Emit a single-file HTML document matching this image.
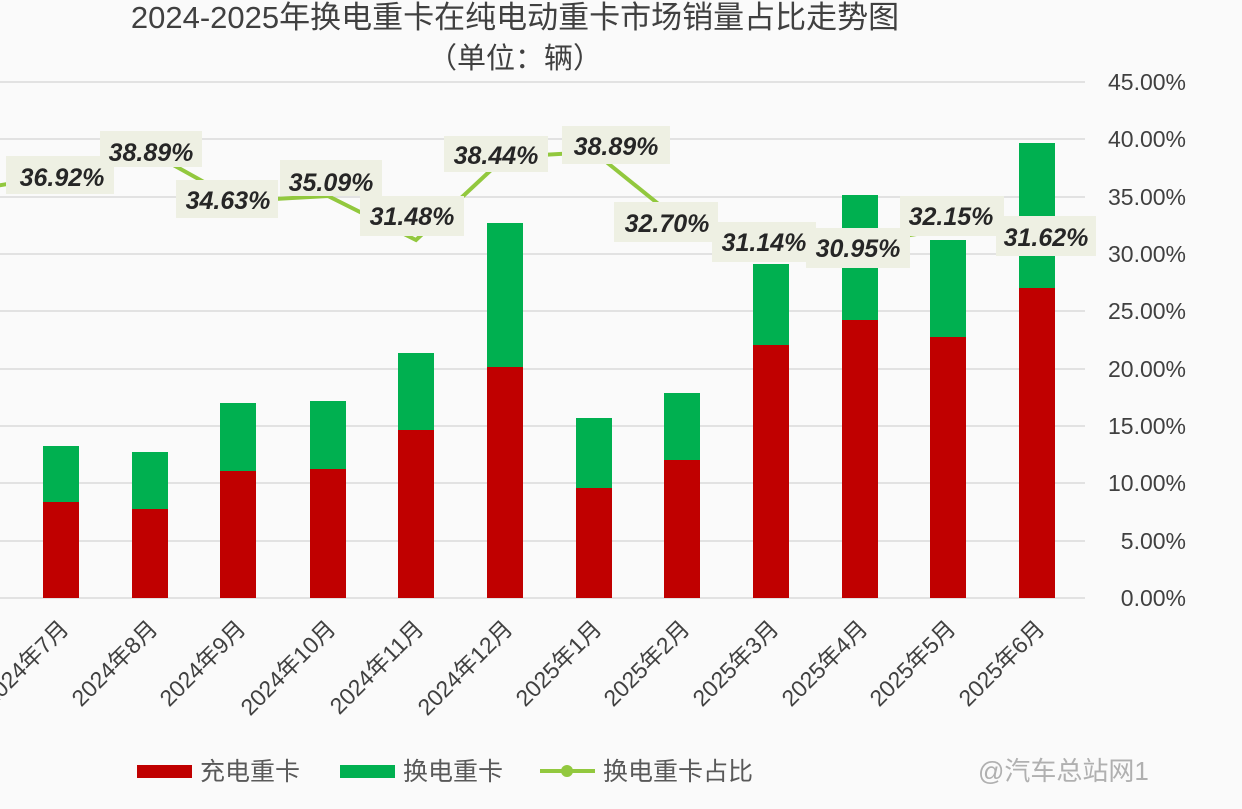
<!DOCTYPE html>
<html><head><meta charset="utf-8"><style>
body{margin:0;background:#fafafa;}
svg{display:block;font-family:"Liberation Sans","Noto Sans CJK SC",sans-serif;}
</style></head><body>
<svg width="1242" height="809" viewBox="0 0 1242 809">
<rect width="1242" height="809" fill="#fafafa"/>
<text x="515" y="28" font-size="31" text-anchor="middle" fill="#404040">2024-2025年换电重卡在纯电动重卡市场销量占比走势图</text>
<text x="515" y="68" font-size="29" text-anchor="middle" fill="#404040">（单位：辆）</text>
<g stroke="#d9d9d9" stroke-width="1.5">
<line x1="0" y1="82" x2="1085" y2="82"/><line x1="0" y1="139" x2="1085" y2="139"/>
<line x1="0" y1="197" x2="1085" y2="197"/><line x1="0" y1="254" x2="1085" y2="254"/>
<line x1="0" y1="311" x2="1085" y2="311"/><line x1="0" y1="369" x2="1085" y2="369"/>
<line x1="0" y1="426" x2="1085" y2="426"/><line x1="0" y1="483" x2="1085" y2="483"/>
<line x1="0" y1="541" x2="1085" y2="541"/><line x1="0" y1="598" x2="1085" y2="598"/>
</g>
<g font-size="23" fill="#404040" text-anchor="end">
<text x="1186" y="90">45.00%</text><text x="1186" y="147">40.00%</text><text x="1186" y="205">35.00%</text>
<text x="1186" y="262">30.00%</text><text x="1186" y="319">25.00%</text><text x="1186" y="377">20.00%</text>
<text x="1186" y="434">15.00%</text><text x="1186" y="491">10.00%</text><text x="1186" y="549">5.00%</text>
<text x="1186" y="606">0.00%</text>
</g>
<g fill="#c00000">
<rect x="43" y="502" width="36" height="96"/><rect x="132" y="509" width="36" height="89"/>
<rect x="220" y="471" width="36" height="127"/><rect x="310" y="469" width="36" height="129"/>
<rect x="398" y="430" width="36" height="168"/><rect x="487" y="367" width="36" height="231"/>
<rect x="576" y="488" width="36" height="110"/><rect x="664" y="460" width="36" height="138"/>
<rect x="753" y="345" width="36" height="253"/><rect x="842" y="320" width="36" height="278"/>
<rect x="930" y="337" width="36" height="261"/><rect x="1019" y="288" width="36" height="310"/>
</g>
<g fill="#00b050">
<rect x="43" y="446" width="36" height="56"/><rect x="132" y="452" width="36" height="57"/>
<rect x="220" y="403" width="36" height="68"/><rect x="310" y="401" width="36" height="68"/>
<rect x="398" y="353" width="36" height="77"/><rect x="487" y="223" width="36" height="144"/>
<rect x="576" y="418" width="36" height="70"/><rect x="664" y="393" width="36" height="67"/>
<rect x="753" y="264" width="36" height="81"/><rect x="842" y="195" width="36" height="125"/>
<rect x="930" y="240" width="36" height="97"/><rect x="1019" y="143" width="36" height="145"/>
</g>
<polyline fill="none" stroke="#92c83e" stroke-width="4" points="-28,190 61,175 150,152 238,201 328,196 416,240 505,157 594,152 682,223 771,241 860,243 948,229 1037,235"/>
<g font-size="25" font-weight="bold" font-style="italic" fill="#262626" text-anchor="middle">
<g fill="#eef0e3"><rect x="6" y="156" width="108" height="38"/><rect x="100" y="131" width="102" height="36"/>
<rect x="176" y="180" width="102" height="38"/><rect x="280" y="160" width="102" height="36"/>
<rect x="360" y="196" width="104" height="40"/><rect x="444" y="136" width="104" height="36"/>
<rect x="562" y="126" width="108" height="38"/><rect x="614" y="202" width="104" height="40"/>
<rect x="712" y="222" width="104" height="40"/><rect x="806" y="228" width="104" height="40"/>
<rect x="900" y="196" width="104" height="40"/><rect x="996" y="216" width="100" height="40"/></g>
<text x="62" y="186">36.92%</text><text x="151" y="161">38.89%</text>
<text x="228" y="209">34.63%</text><text x="331" y="191">35.09%</text>
<text x="412" y="225">31.48%</text><text x="496" y="164">38.44%</text>
<text x="616" y="155">38.89%</text><text x="667" y="232">32.70%</text>
<text x="764" y="251">31.14%</text><text x="858" y="257">30.95%</text>
<text x="951" y="225">32.15%</text><text x="1046" y="246">31.62%</text>
</g>
<g font-size="23" fill="#404040" text-anchor="end">
<text transform="translate(70,630) rotate(-45)">2024年7月</text>
<text transform="translate(159,630) rotate(-45)">2024年8月</text>
<text transform="translate(247,630) rotate(-45)">2024年9月</text>
<text transform="translate(337,630) rotate(-45)">2024年10月</text>
<text transform="translate(425,630) rotate(-45)">2024年11月</text>
<text transform="translate(514,630) rotate(-45)">2024年12月</text>
<text transform="translate(603,630) rotate(-45)">2025年1月</text>
<text transform="translate(691,630) rotate(-45)">2025年2月</text>
<text transform="translate(780,630) rotate(-45)">2025年3月</text>
<text transform="translate(869,630) rotate(-45)">2025年4月</text>
<text transform="translate(957,630) rotate(-45)">2025年5月</text>
<text transform="translate(1046,630) rotate(-45)">2025年6月</text>
</g>
<rect x="137" y="765" width="55" height="13" fill="#c00000"/>
<text x="200" y="780" font-size="25" fill="#595959">充电重卡</text>
<rect x="340" y="765" width="55" height="13" fill="#00b050"/>
<text x="403" y="780" font-size="25" fill="#595959">换电重卡</text>
<line x1="540" y1="771" x2="595" y2="771" stroke="#92c83e" stroke-width="4"/>
<circle cx="567" cy="771" r="6" fill="#92c83e"/>
<text x="603" y="780" font-size="25" fill="#595959">换电重卡占比</text>
<text x="978" y="780" font-size="26" fill="#b0b0b0">@汽车总站网1</text>
</svg>
</body></html>
